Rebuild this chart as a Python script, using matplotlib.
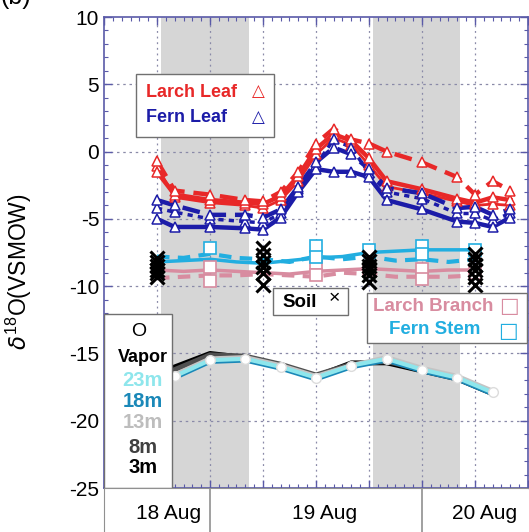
import numpy as np
import matplotlib; matplotlib.use('Agg')
import matplotlib.pyplot as plt
from matplotlib.patches import Rectangle

plt.rcParams['font.family'] = ['Liberation Sans', 'DejaVu Sans']
plt.rcParams['mathtext.fontset'] = 'custom'
plt.rcParams['mathtext.rm'] = 'Liberation Sans'
plt.rcParams['axes.unicode_minus'] = False

# hours since 18 Aug 12:00
leaf_t = [6, 8, 12, 16, 18, 20, 22, 24, 26, 28, 30, 32, 36, 40, 42, 44, 46]
larch_a = [-1.5, -3.2, -3.6, -3.8, -3.9, -3.3, -1.8, 0.2, 1.3, 0.8, -0.5, -2.2, -2.8, -3.5, -3.8, -3.4, -3.6]
larch_b = [-0.7, -2.9, -3.2, -3.6, -3.7, -3.0, -1.5, 0.6, 1.7, 0.9, 0.6, 0.0, -0.8, -1.9, -3.2, -2.2, -2.9]
larch_c = [-1.1, -3.4, -3.8, -4.0, -4.2, -3.6, -2.2, -0.2, 1.0, 0.5, -1.0, -2.6, -3.1, -3.7, -4.0, -3.9, -4.0]
fern_a = [-5.0, -5.6, -5.6, -5.7, -5.8, -4.9, -3.0, -1.3, -1.5, -1.5, -1.9, -3.6, -4.3, -5.2, -5.3, -5.6, -4.9]
fern_b = [-3.6, -4.0, -4.7, -4.7, -4.9, -4.3, -2.6, -0.8, 0.3, -0.2, -1.3, -2.7, -3.1, -4.2, -4.1, -4.7, -4.3]
fern_c = [-4.2, -4.5, -5.0, -5.2, -5.3, -4.6, -2.8, -1.0, 0.9, 0.3, -1.6, -3.0, -3.5, -4.6, -4.6, -5.1, -4.6]

stem_t = [6, 9, 12, 15, 18, 21, 24, 27, 30, 33, 36, 39, 42]
fstem_a = [-8.2, -8.1, -8.0, -8.2, -8.3, -8.1, -7.9, -7.8, -7.5, -7.4, -7.3, -7.3, -7.3]
fstem_b = [-7.8, -7.9, -7.6, -7.9, -8.0, -8.2, -7.8, -8.0, -7.8, -8.1, -8.0, -8.2, -8.0]
lbr_a = [-8.8, -8.9, -8.8, -8.9, -9.0, -9.1, -8.9, -8.8, -8.7, -8.8, -8.9, -8.8, -8.8]
lbr_b = [-9.4, -9.3, -9.2, -9.2, -9.1, -9.2, -9.3, -9.0, -9.1, -9.3, -9.3, -9.3, -9.2]

sq_fern_t = [12, 24, 24, 30, 36, 36, 42]
sq_fern_v = [-7.2, -7.0, -7.8, -7.3, -7.0, -7.6, -7.3]
sq_larch_t = [12, 12, 24, 24, 30, 36, 36, 42]
sq_larch_v = [-8.6, -9.6, -8.3, -9.2, -8.8, -8.7, -9.5, -9.0]

soil_t = [6] * 6 + [18] * 6 + [30] * 6 + [42] * 6
soil_v = [-7.9, -8.2, -8.5, -8.8, -9.0, -9.3,
          -7.2, -7.7, -8.2, -8.6, -9.0, -9.9,
          -7.8, -8.1, -8.5, -8.8, -9.2, -9.7,
          -7.6, -8.0, -8.4, -8.8, -9.3, -9.9]

vap_t = [8, 12, 16, 20, 24, 28, 32, 36, 40, 44]
vap_3m = [-16.0, -15.0, -15.3, -15.9, -16.7, -15.7, -15.7, -16.3, -16.9, -18.0]
vap_8m = [-16.2, -15.1, -15.2, -15.8, -16.6, -15.8, -15.6, -16.2, -16.8, -17.9]
vap_13m = [-16.6, -15.4, -15.3, -15.9, -16.7, -15.9, -15.3, -16.1, -16.7, -17.8]
vap_18m = [-16.8, -15.6, -15.5, -16.1, -16.9, -16.0, -15.5, -16.3, -16.9, -18.0]
vap_23m = [-16.7, -15.5, -15.4, -16.0, -16.8, -15.9, -15.4, -16.2, -16.8, -17.9]

nights = [(6.5, 16.4), (30.5, 40.3)]
day_labels = ['18 Aug', '19 Aug', '20 Aug']
day_label_x = [7.3, 25.0, 43.1]

red, blue = '#e82828', '#1c1ca8'
pink, cyan = '#d88ca0', '#22aee0'
frame = '#5a5aa8'

fig = plt.figure(figsize=(5.29, 5.32), dpi=100)
ax = fig.add_axes([0.1966, 0.0827, 0.8015, 0.8853])
ax.set_xlim(0, 48)
ax.set_ylim(-25, 10)

for a, b in nights:
    ax.axvspan(a, b, color='#d6d6d6', lw=0, zorder=0)
for x in range(6, 48, 6):
    ax.axvline(x, color='#8a8aa8', ls=(0, (1.5, 3)), lw=0.9, zorder=1)
for y in [5, 0, -5, -10, -15, -20]:
    ax.axhline(y, color='#8a8aa8', ls=(0, (2, 3)), lw=0.9, zorder=1)

# leaf
for vals, c, ls, lw in [(larch_c, red, '-', 2.0), (larch_a, red, '-', 3.2), (larch_b, red, (0, (4, 2)), 3.2),
                        (fern_c, blue, (0, (1.5, 1.5)), 2.5), (fern_a, blue, '-', 3.2), (fern_b, blue, (0, (4, 2)), 3.2)]:
    ax.plot(leaf_t, vals, color=c, ls=ls, lw=lw, zorder=4)
    ax.plot(leaf_t, vals, ls='none', marker='^', ms=7.5, mfc='white', mec=c, mew=1.1, zorder=5)

# stem / branch
ax.plot(stem_t, lbr_b, color=pink, ls=(0, (3, 2)), lw=3, zorder=3)
ax.plot(stem_t, lbr_a, color=pink, ls='-', lw=2.5, zorder=3)
ax.plot(stem_t, fstem_b, color=cyan, ls=(0, (3, 2)), lw=3, zorder=3)
ax.plot(stem_t, fstem_a, color=cyan, ls='-', lw=2.5, zorder=3)
ax.plot(sq_larch_t, sq_larch_v, ls='none', marker='s', ms=8, mfc='white', mec=pink, mew=1.2, zorder=4)
ax.plot(sq_fern_t, sq_fern_v, ls='none', marker='s', ms=8, mfc='white', mec=cyan, mew=1.2, zorder=4)

# soil
ax.plot(soil_t, soil_v, ls='none', marker='x', ms=10, mec='black', mew=2.2, zorder=6)

# vapor
for vals, c, lw in [(vap_3m, 'black', 3.5), (vap_8m, '#505050', 3.5), (vap_13m, '#c4c4c4', 3.5),
                    (vap_18m, '#1a88b8', 3.5), (vap_23m, '#8ee6ec', 3.0)]:
    ax.plot(vap_t, vals, color=c, lw=lw, zorder=4)
ax.plot(vap_t, vap_23m, ls='none', marker='o', ms=7, mfc='white', mec='#dcdcdc', zorder=5)

# legends
ax.add_patch(Rectangle((3.6, 1.12), 15.7, 4.61, fc='white', ec='#707070', lw=1.0, zorder=7))
ax.text(4.8, 4.4, 'Larch Leaf', color=red, fontsize=13, fontweight='bold', va='center', zorder=8)
ax.text(4.8, 2.5, 'Fern Leaf', color=blue, fontsize=13, fontweight='bold', va='center', zorder=8)
ax.text(17.5, 4.5, '\u25b3', color=red, fontsize=12, ha='center', va='center', zorder=8, family='DejaVu Sans')
ax.text(17.5, 2.6, '\u25b3', color=blue, fontsize=12, ha='center', va='center', zorder=8, family='DejaVu Sans')

ax.add_patch(Rectangle((19.1, -12.14), 8.5, 2.01, fc='white', ec='#707070', lw=1.0, zorder=7))
ax.text(20.2, -11.2, 'Soil', color='black', fontsize=13.5, fontweight='bold', va='center', zorder=8)
ax.text(26.1, -10.9, '\u00d7', color='black', fontsize=14, ha='center', va='center', zorder=8)

ax.add_patch(Rectangle((29.8, -14.2), 18.1, 3.7, fc='white', ec='#707070', lw=1.0, zorder=7))
ax.text(37.3, -11.5, 'Larch Branch', color=pink, fontsize=13.5, fontweight='bold', ha='center', va='center', zorder=8)
ax.text(37.4, -13.2, 'Fern Stem', color=cyan, fontsize=13.5, fontweight='bold', ha='center', va='center', zorder=8)
ax.text(45.9, -11.5, '\u25a1', color=pink, fontsize=15, ha='center', va='center', zorder=8, family='DejaVu Sans')
ax.text(45.7, -13.3, '\u25a1', color=cyan, fontsize=15, ha='center', va='center', zorder=8, family='DejaVu Sans')

ax.add_patch(Rectangle((0, -25), 7.7, 12.9, fc='white', ec='#707070', lw=1.0, zorder=7))
ax.text(3.9, -13.4, 'O', color='black', fontsize=14, ha='center', va='center', zorder=8)
for s, y, c in [('Vapor', -15.3, 'black'), ('23m', -17.0, '#8ee6ec'), ('18m', -18.6, '#1a88b8'),
                ('13m', -20.1, '#bdbdbd'), ('8m', -22.0, '#404040'), ('3m', -23.5, 'black')]:
    ax.text(4.4, y, s, color=c, fontsize=13 if s == 'Vapor' else 14.5, fontweight='bold',
            ha='center', va='center', zorder=8)

# axes styling
for sp in ax.spines.values():
    sp.set_color(frame)
    sp.set_linewidth(1.2)
ax.set_xticks(range(0, 49, 6))
ax.set_xticks(range(0, 49), minor=True)
ax.set_yticks(range(-25, 11, 5))
ax.set_yticks(range(-25, 11), minor=True)
ax.tick_params(which='both', direction='in', top=True, right=True, color=frame)
ax.tick_params(which='major', length=6, width=1.0, labelsize=15, labelbottom=False)
ax.tick_params(which='minor', length=3, width=0.8)
ax.set_ylabel(r'$\delta^{18}$O(VSMOW)', fontsize=16.5)
ax.yaxis.set_label_coords(-0.165, 0.46)

# date strip
dx = fig.add_axes([0.1966, 0.0, 0.8015, 0.0827])
dx.set_xlim(0, 48)
dx.set_ylim(0, 1)
dx.axvline(12, color='#909090', lw=1.2)
dx.axvline(36, color='#909090', lw=1.2)
for s, x in zip(day_labels, day_label_x):
    dx.text(x, 0.42, s, fontsize=15, ha='center', va='center')
dx.set_xticks([])
dx.set_yticks([])
for k, sp in dx.spines.items():
    sp.set_color('#909090')
    sp.set_visible(k in ('left', 'top'))

fig.text(0.0, 1 - 9 / 532, '(b)', fontsize=18, va='bottom', ha='left')

plt.savefig('out.png', dpi=100)
